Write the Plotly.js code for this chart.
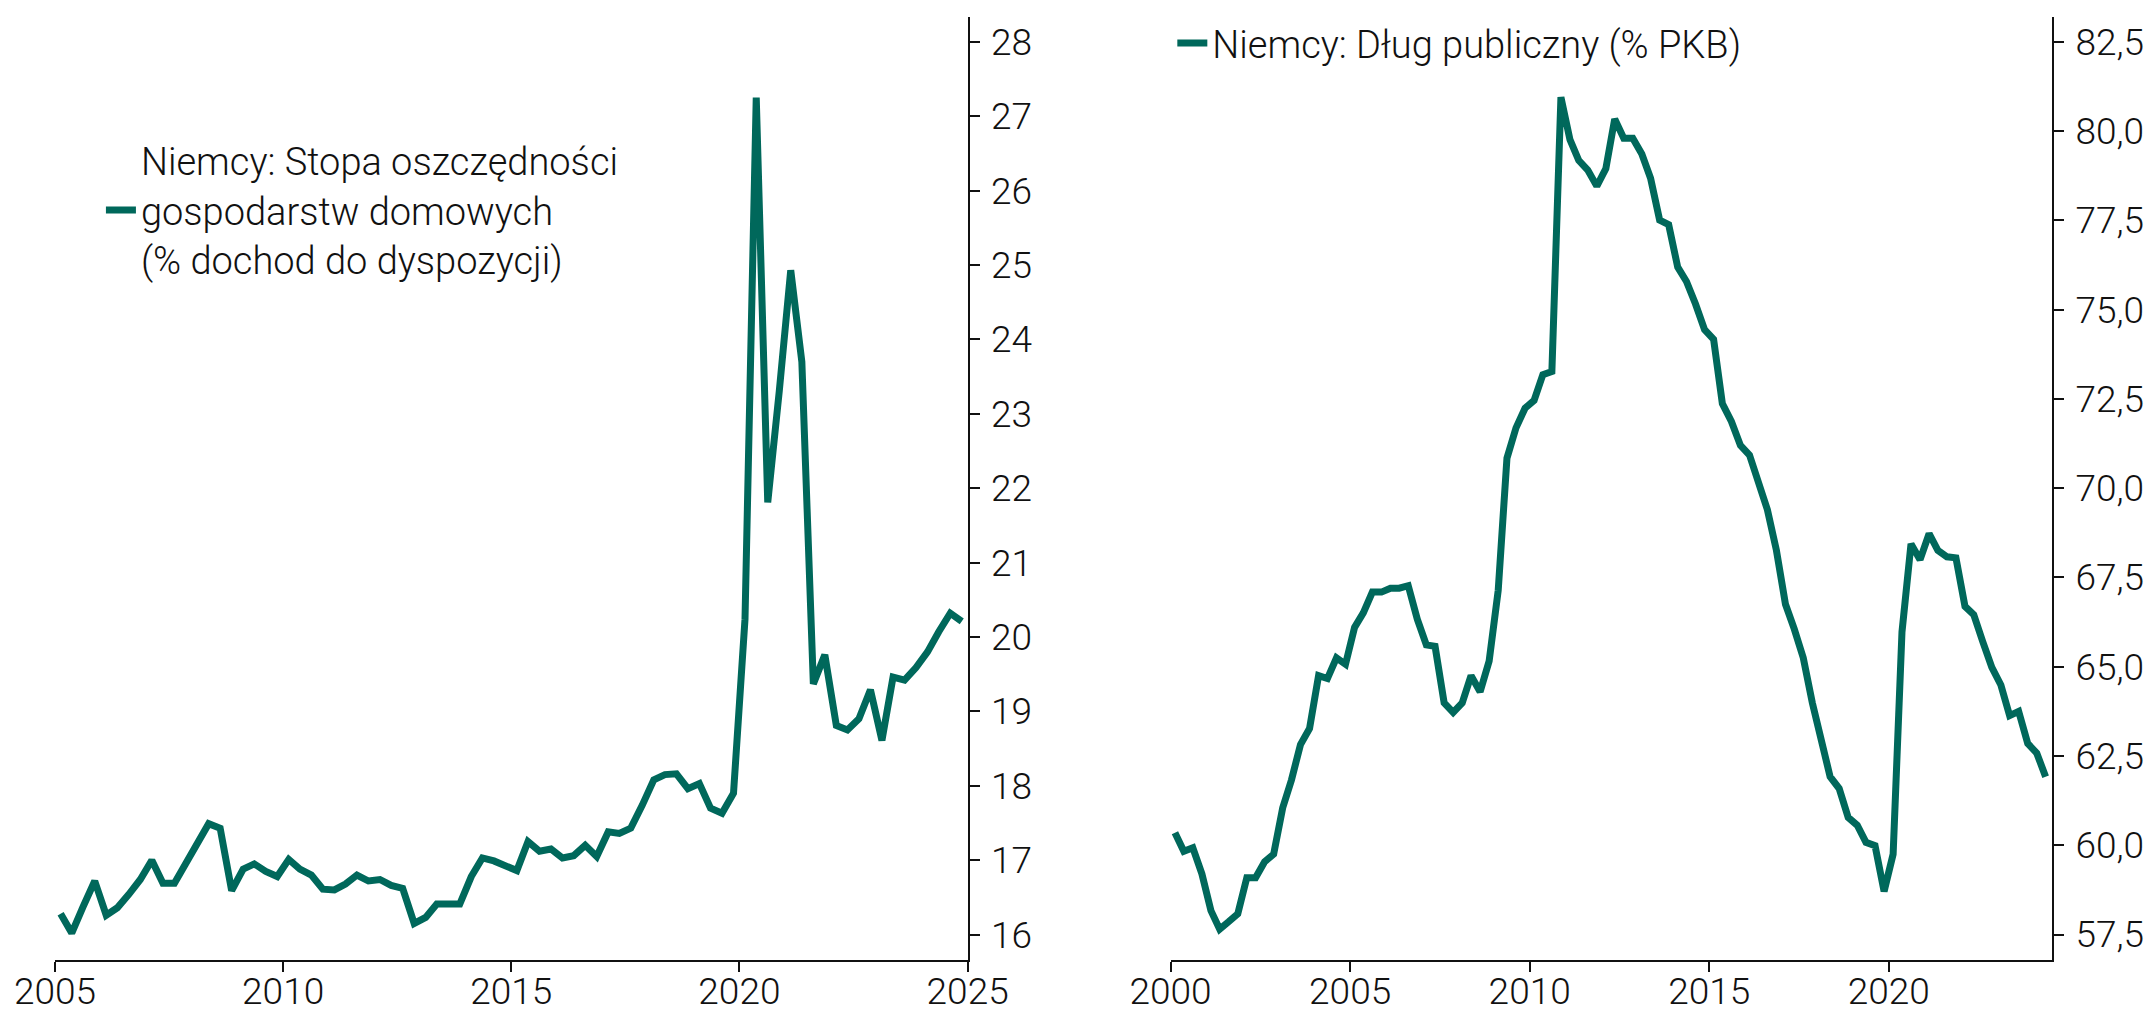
<!DOCTYPE html>
<html>
<head>
<meta charset="utf-8">
<script src="https://cdn.plot.ly/plotly-3.0.1.min.js"></script>
<style>
  html, body { margin: 0; padding: 0; background: #fff; }
  #graph { width: 2153px; height: 1014px; }
</style>
</head>
<body>
<div id="graph"></div>
<script>
// Niemcy: stopa oszczednosci gospodarstw domowych, kwartalnie 2005Q1-2024Q4
const savingsStart = 2005;
const savingsRate = [
  16.28, 16.02, 16.38, 16.72, 16.26, 16.36, 16.54, 16.74,
  17.00, 16.69, 16.69, 16.95, 17.25, 17.49, 17.43, 16.59,
  16.88, 16.95, 16.85, 16.78, 17.01, 16.88, 16.80, 16.61,
  16.60, 16.68, 16.80, 16.72, 16.74, 16.66, 16.62, 16.15,
  16.23, 16.41, 16.41, 16.41, 16.78, 17.03, 16.99, 16.93,
  16.86, 17.25, 17.12, 17.15, 17.03, 17.06, 17.20, 17.05,
  17.38, 17.36, 17.43, 17.74, 18.08, 18.15, 18.16, 17.96,
  18.03, 17.70, 17.63, 17.90, 20.24, 27.25, 21.81, 23.30,
  24.93, 23.70, 19.37, 19.76, 18.81, 18.75, 18.90, 19.29,
  18.61, 19.46, 19.42, 19.59, 19.80, 20.07, 20.32, 20.21
];

// Niemcy: dlug publiczny (% PKB), kwartalnie 2000Q1-2024Q2
const debtStart = 2000;
const debtRatio = [
  60.35, 59.83, 59.93, 59.20, 58.17, 57.65, 57.86, 58.08,
  59.09, 59.09, 59.54, 59.75, 61.05, 61.83, 62.82, 63.27,
  64.75, 64.67, 65.25, 65.07, 66.10, 66.51, 67.09, 67.09,
  67.20, 67.20, 67.27, 66.33, 65.61, 65.57, 63.99, 63.72,
  63.99, 64.75, 64.30, 65.16, 67.14, 70.84, 71.69, 72.24,
  72.46, 73.18, 73.27, 80.95, 79.76, 79.18, 78.91, 78.46,
  78.95, 80.34, 79.80, 79.80, 79.36, 78.68, 77.51, 77.38,
  76.19, 75.79, 75.16, 74.44, 74.17, 72.37, 71.87, 71.20,
  70.93, 70.17, 69.40, 68.26, 66.75, 66.06, 65.25, 63.99,
  62.91, 61.92, 61.59, 60.78, 60.56, 60.08, 59.99, 58.71,
  59.75, 65.97, 68.44, 68.00, 68.73, 68.26, 68.08, 68.05,
  66.69, 66.46, 65.70, 64.98, 64.49, 63.63, 63.75, 62.85,
  62.58, 61.92
];

const savingsName = 'Niemcy: Stopa oszczędności<br>gospodarstw domowych<br>(% dochod do dyspozycji)';
const debtName = 'Niemcy: Dług publiczny (% PKB)';

const leftTicks = [16, 17, 18, 19, 20, 21, 22, 23, 24, 25, 26, 27, 28];
const rightTicks = [57.5, 60, 62.5, 65, 67.5, 70, 72.5, 75, 77.5, 80, 82.5];

// srodek kwartalu jako data
function quarterDates(startYear, n) {
  const mid = ['02-15', '05-15', '08-15', '11-15'];
  const out = [];
  for (let i = 0; i < n; i++) {
    const y = startYear + Math.floor(i / 4);
    out.push(y + '-' + mid[i % 4]);
  }
  return out;
}

const green = '#00685B';
const family = 'Roboto, "Open Sans", sans-serif';
const font = { family: family, size: 37, color: '#111', weight: 300 };
const legendFont = { family: family, size: 38, color: '#111', weight: 300 };

const savings = {
  x: quarterDates(savingsStart, savingsRate.length),
  y: savingsRate,
  type: 'scatter',
  mode: 'lines',
  name: savingsName,
  line: { color: green, width: 7, shape: 'linear' },
  xaxis: 'x', yaxis: 'y',
  legend: 'legend'
};

const debt = {
  x: quarterDates(debtStart, debtRatio.length),
  y: debtRatio,
  type: 'scatter',
  mode: 'lines',
  name: debtName,
  line: { color: green, width: 7, shape: 'linear' },
  xaxis: 'x2', yaxis: 'y2',
  legend: 'legend2'
};

const xCommon = {
  type: 'date',
  tick0: '2000-01-01',
  dtick: 'M60',
  tickformat: '%Y',
  showgrid: false,
  zeroline: false,
  showline: true,
  linecolor: '#111',
  linewidth: 2,
  ticks: 'outside',
  ticklen: 10,
  tickwidth: 2,
  tickcolor: '#111',
  tickfont: font,
  ticklabelstandoff: -12
};

const yCommon = {
  side: 'right',
  showgrid: false,
  zeroline: false,
  showline: true,
  linecolor: '#111',
  linewidth: 2,
  ticks: 'outside',
  ticklen: 10,
  tickwidth: 2,
  tickcolor: '#111',
  tickfont: font,
  ticklabelstandoff: 4
};

const layout = {
  width: 2153,
  height: 1014,
  margin: { l: 55, r: 101, t: 13, b: 54 },
  paper_bgcolor: '#fff',
  plot_bgcolor: '#fff',
  separators: ', ',
  font: font,
  xaxis: Object.assign({}, xCommon, { domain: [0, 0.457], range: ['2005-01-01', '2025-01-01'], anchor: 'y' }),
  yaxis: Object.assign({}, yCommon, { range: [15.658, 28.334], tickvals: leftTicks, anchor: 'x', position: 0.457 }),
  xaxis2: Object.assign({}, xCommon, { domain: [0.5586, 1], range: ['2000-01-01', '2024-07-19'], anchor: 'y2' }),
  yaxis2: Object.assign({}, yCommon, { range: [56.787, 83.197], tickvals: rightTicks, tickformat: '.1f', anchor: 'x2' }),
  legend: {
    x: 0.023, y: 0.795, xanchor: 'left', yanchor: 'middle',
    bgcolor: 'rgba(0,0,0,0)', borderwidth: 0,
    font: legendFont
  },
  legend2: {
    x: 0.5595, y: 0.972, xanchor: 'left', yanchor: 'middle',
    bgcolor: 'rgba(0,0,0,0)', borderwidth: 0,
    font: legendFont
  },
  showlegend: true
};

Plotly.newPlot('graph', [savings, debt], layout, { displayModeBar: false, staticPlot: true });
</script>
</body>
</html>
